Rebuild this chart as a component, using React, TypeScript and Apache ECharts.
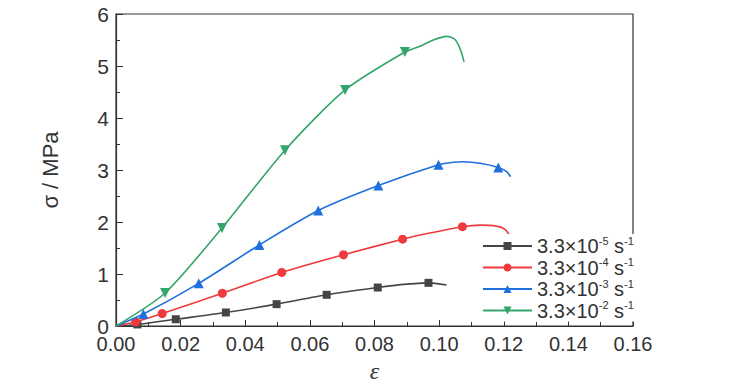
import React, { useEffect, useRef } from "react";
import * as echarts from "echarts";

// Strain rates (legend exponents)
const rateExponents = ["-5", "-4", "-3", "-2"];
const seriesNames = rateExponents.map((e) => `3.3×10^${e} s^-1`);
const colors = ["#454545", "#ee3a3c", "#1f6fdc", "#34a56a"];
const symbols = ["rect", "circle", "triangle", "triangle"];
const symbolRotates = [0, 0, 0, 180];
const symbolSizes = [8, 9, 10, 10];

// Curve points [strain, stress MPa]
const curve5: number[][] = [[0, 0], [0.0889, 0.80], [0.1023, 0.79]];
const markers5: number[][] = [[0.0066, 0.03], [0.0185, 0.13], [0.034, 0.26], [0.0497, 0.42], [0.0652, 0.60], [0.081, 0.74], [0.0967, 0.83]];

const curve4: number[][] = [[0, 0], [0.0941, 1.75], [0.1127, 1.94], [0.1178, 1.92], [0.1204, 1.86], [0.1219, 1.73]];
const markers4: number[][] = [[0.0061, 0.08], [0.0143, 0.24], [0.0329, 0.63], [0.0513, 1.03], [0.0704, 1.37], [0.0887, 1.67], [0.1072, 1.91]];

const curve3: number[][] = [[0, 0], [0.1044, 3.15], [0.1075, 3.16], [0.1127, 3.13], [0.1209, 2.97], [0.1221, 2.87]];
const markers3: number[][] = [[0.0085, 0.23], [0.0256, 0.82], [0.0444, 1.56], [0.0626, 2.22], [0.0812, 2.70], [0.0998, 3.10], [0.1183, 3.05]];

const curve2: number[][] = [[0, 0], [0.0941, 5.38], [0.0982, 5.50], [0.1023, 5.57], [0.1047, 5.52], [0.106, 5.40], [0.107, 5.24], [0.1077, 5.08]];
const markers2: number[][] = [[0.0152, 0.635], [0.0328, 1.885], [0.0523, 3.38], [0.0709, 4.54], [0.0894, 5.27]];

const curves = [curve5, curve4, curve3, curve2];
const markerSets = [markers5, markers4, markers3, markers2];

const xTicks = { min: 0, max: 0.16, interval: 0.02 };
const yTicks = { min: 0, max: 6, interval: 1 };

const SANS = "'Liberation Sans', Arial, sans-serif";

function buildData(curve: number[][], marks: number[][]) {
  const items = [
    ...curve.map((p) => ({ value: p, m: false })),
    ...marks.map((p) => ({ value: p, m: true })),
  ];
  items.sort((a, b) => a.value[0] - b.value[0]);
  return items.map((it) => (it.m ? { value: it.value } : { value: it.value, symbol: "none" }));
}

export default function App() {
  const ref = useRef<HTMLDivElement>(null);
  useEffect(() => {
    if (!ref.current) return;
    const chart = echarts.init(ref.current, undefined, { renderer: "svg" });
    const axisColor = "#333";
    chart.setOption({
      animation: false,
      backgroundColor: "#fff",
      grid: {
        left: 116,
        right: 96,
        top: 14,
        bottom: 64,
        show: true,
        borderColor: axisColor,
        borderWidth: 1.2,
        containLabel: false,
      },
      xAxis: {
        type: "value",
        min: xTicks.min,
        max: xTicks.max,
        interval: xTicks.interval,
        name: "ε",
        nameLocation: "middle",
        nameGap: 33,
        nameTextStyle: {
          fontFamily: "'Liberation Serif', serif",
          fontStyle: "italic",
          fontSize: 24,
          color: "#333",
        },
        axisLine: { lineStyle: { color: axisColor, width: 1.2 } },
        axisTick: { inside: true, length: 6, lineStyle: { color: axisColor } },
        minorTick: { show: true, splitNumber: 2, length: 4, lineStyle: { color: axisColor } },
        splitLine: { show: false },
        axisLabel: {
          fontFamily: SANS,
          fontSize: 20,
          color: "#333",
          margin: 8,
          formatter: (v: number) => v.toFixed(2),
        },
      },
      yAxis: {
        type: "value",
        min: yTicks.min,
        max: yTicks.max,
        interval: yTicks.interval,
        name: "σ / MPa",
        nameLocation: "middle",
        nameGap: 55,
        nameTextStyle: { fontFamily: SANS, fontSize: 22, color: "#333" },
        axisLine: { lineStyle: { color: axisColor, width: 1.2 } },
        axisTick: { inside: true, length: 7, lineStyle: { color: axisColor } },
        minorTick: { show: true, splitNumber: 2, length: 4, lineStyle: { color: axisColor } },
        splitLine: { show: false },
        axisLabel: { fontFamily: SANS, fontSize: 21, color: "#333", margin: 7 },
      },
      legend: {
        orient: "vertical",
        left: 480,
        top: 234,
        itemWidth: 49,
        itemHeight: 10,
        itemGap: 0.5,
        padding: [1, 1, 1, 2],
        backgroundColor: "#fff",
        data: seriesNames,
        formatter: (name: string) => {
          const i = seriesNames.indexOf(name);
          return `{b|3.3×10}{s|${rateExponents[i]}}{b| s}{s|-1}`;
        },
        textStyle: {
          rich: {
            b: { fontFamily: SANS, fontSize: 20, lineHeight: 22, color: "#333" },
            s: { fontFamily: SANS, fontSize: 11, lineHeight: 12, verticalAlign: "top", color: "#333" },
          },
        },
      },
      series: curves.map((c, i) => ({
        name: seriesNames[i],
        type: "line",
        smooth: 0.25,
        symbol: symbols[i],
        symbolSize: symbolSizes[i],
        symbolRotate: symbolRotates[i],
        showAllSymbol: true,
        color: colors[i],
        lineStyle: { color: colors[i], width: 1.6 },
        itemStyle: { color: colors[i] },
        data: buildData(c, markerSets[i]),
        z: 2 + i,
      })),
    });
    return () => chart.dispose();
  }, []);
  return (
    <div
      ref={ref}
      style={{ position: "fixed", left: 0, top: 0, width: 729, height: 390, background: "#fff" }}
    />
  );
}
